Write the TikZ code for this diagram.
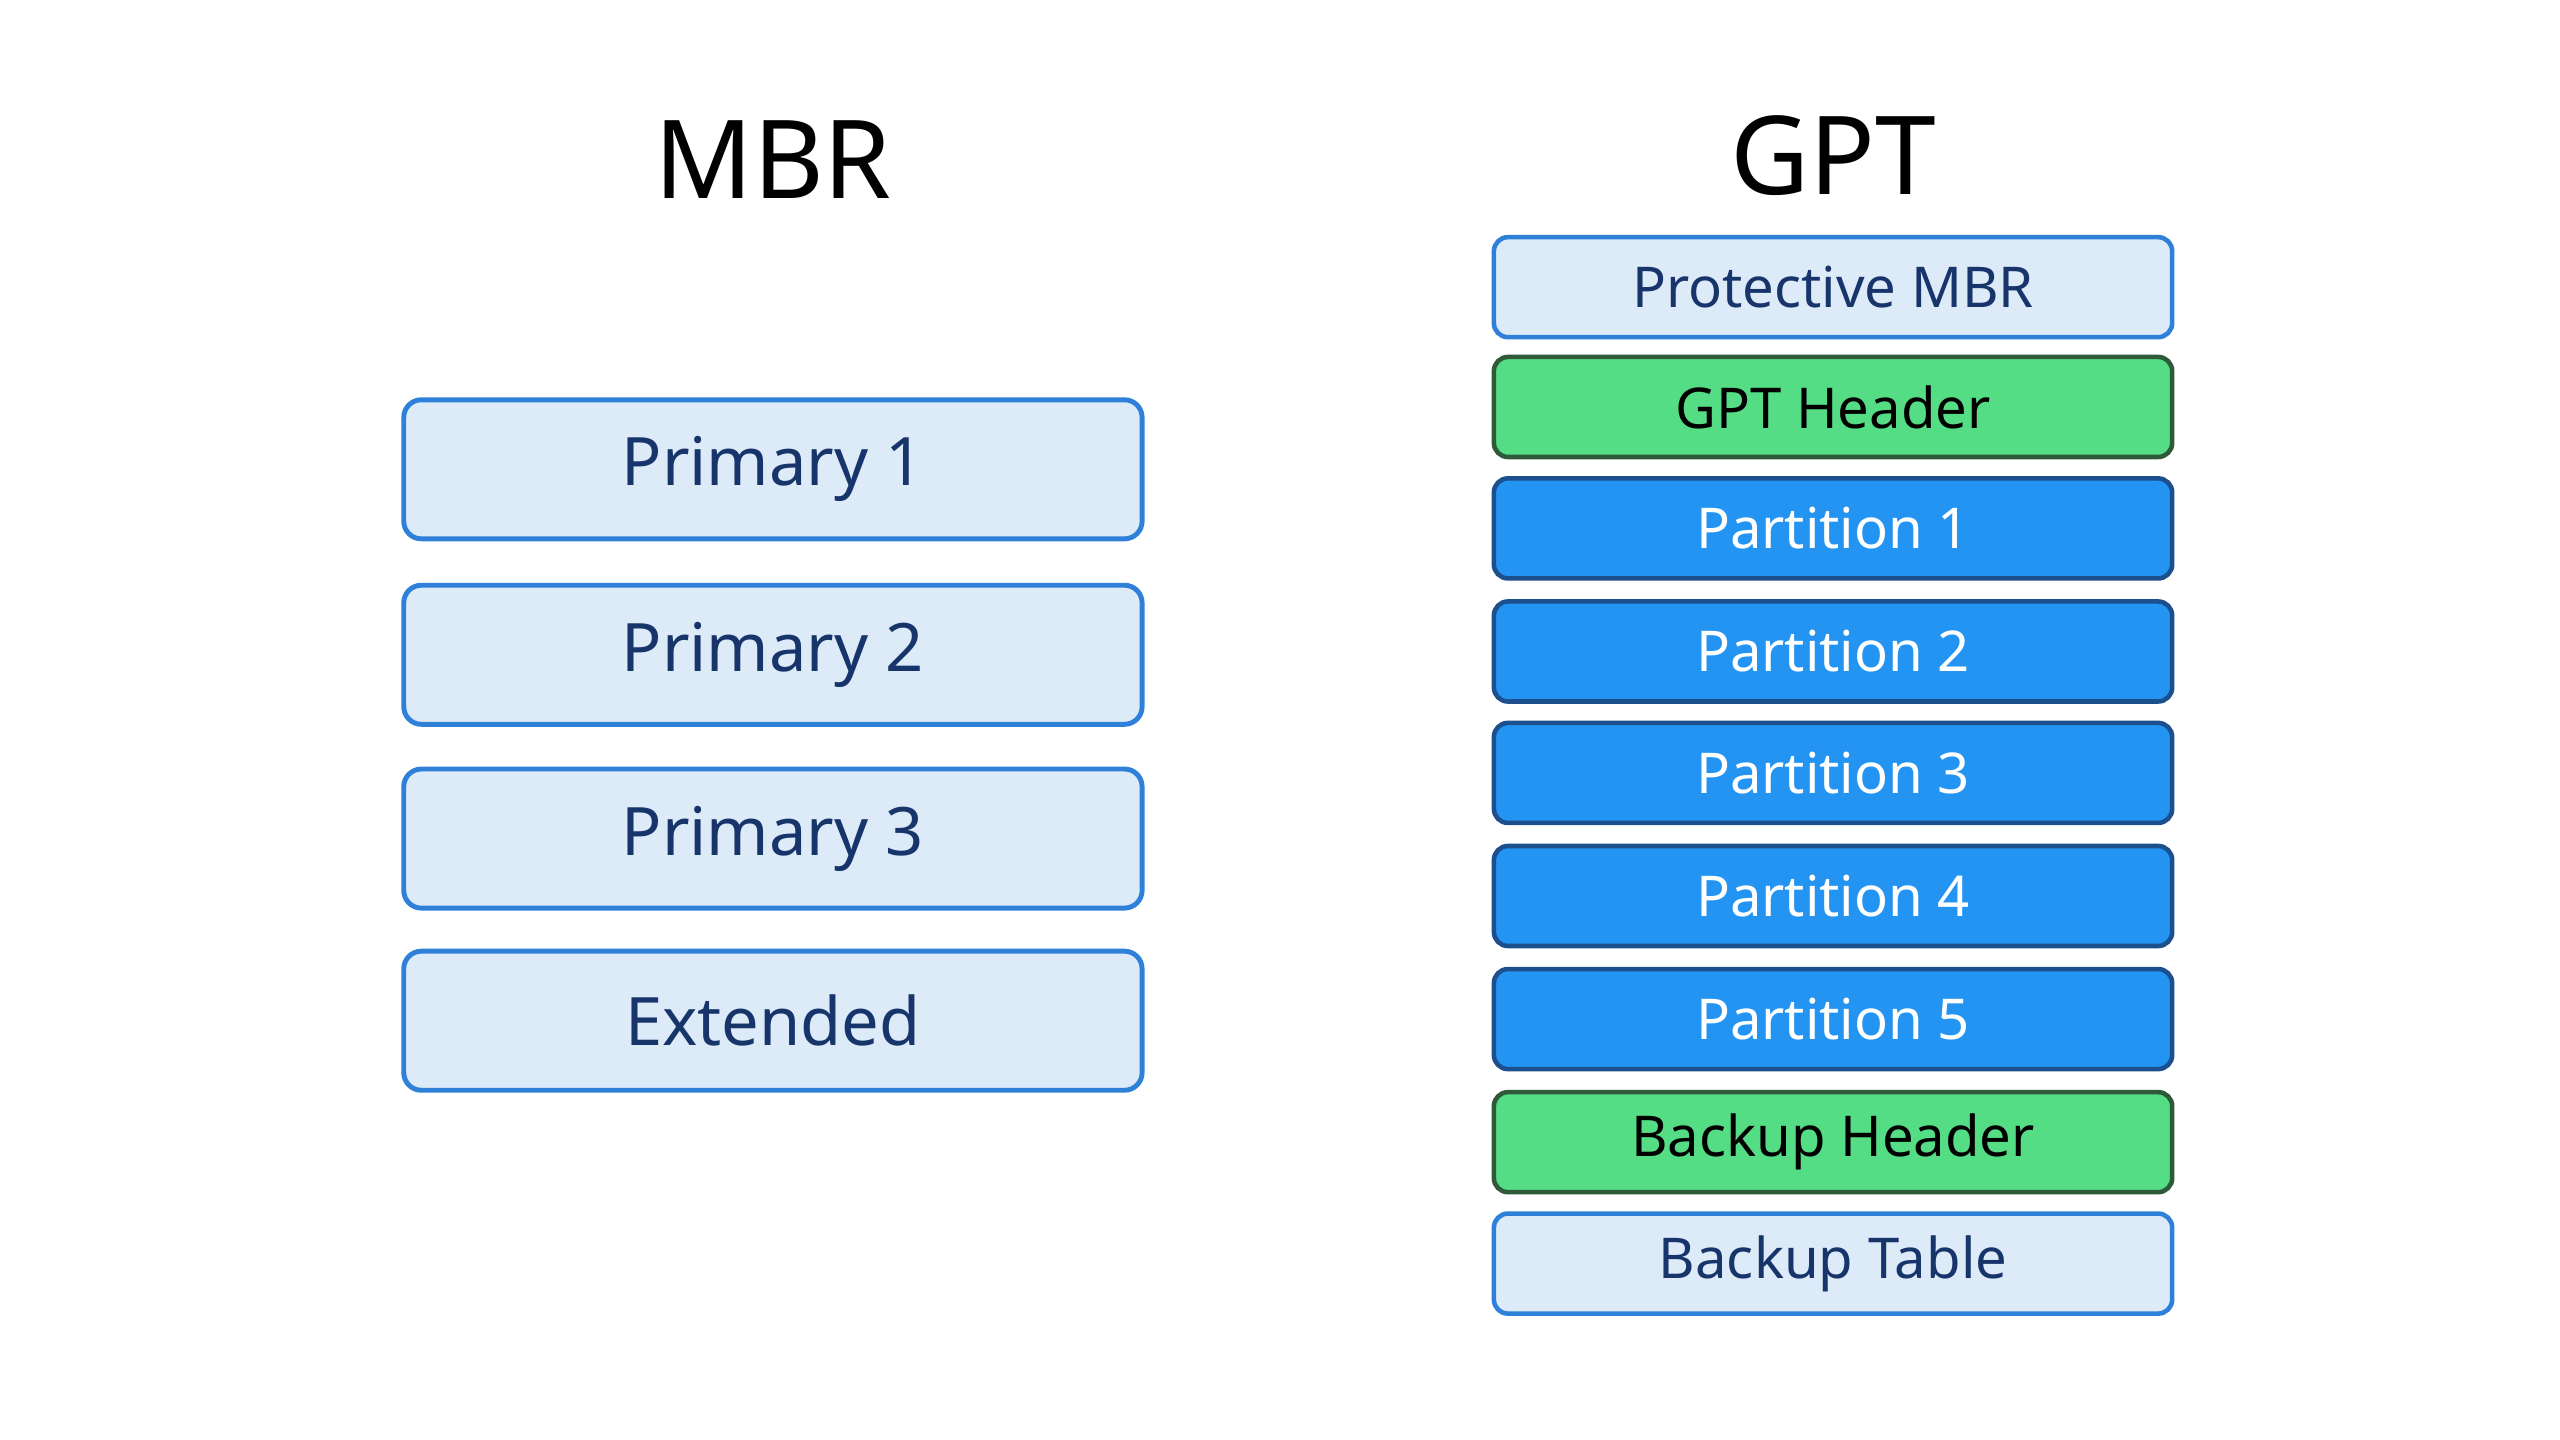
\documentclass[tikz,border=0pt]{standalone}
\usepackage{fontspec}
\setmainfont{Noto Sans}
\definecolor{lightfill}{HTML}{DDEBF8}
\definecolor{lightline}{HTML}{2F80D8}
\definecolor{darkfill}{HTML}{2494F2}
\definecolor{darkline}{HTML}{1B4F8E}
\definecolor{greenfill}{HTML}{55DD85}
\definecolor{greenline}{HTML}{2E5A3A}
\definecolor{textblue}{HTML}{17356B}
\begin{document}
\begin{tikzpicture}
  [x=0.01641cm,y=-0.01641cm,
   title/.style={font=\bfseries\fontsize{31}{36}\selectfont},
   mbrbox/.style={draw=lightline,fill=lightfill,line width=1.4pt,rounded corners=5pt,
     minimum width=7.38cm,minimum height=1.39cm,text=textblue,font=\bfseries\fontsize{19}{22}\selectfont},
   gptbox/.style={draw=lightline,fill=lightfill,line width=1.3pt,rounded corners=4pt,
     minimum width=6.78cm,minimum height=1.0cm,text=textblue,font=\bfseries\fontsize{16}{19}\selectfont},
   part/.style={gptbox,draw=darkline,fill=darkfill,text=white},
   head/.style={gptbox,draw=greenline,fill=greenfill,text=black}]
  \useasboundingbox (0,0) rectangle (1560,877.5);

  \node[title] (tmbr) at (471,97) {MBR};
  \node[title] (tgpt) at (1117,95) {GPT};

  \node[mbrbox] (m1) at (471,286) {Primary 1};
  \node[mbrbox] (m2) at (471,399) {Primary 2};
  \node[mbrbox] (m3) at (471,511) {Primary 3};
  \node[mbrbox] (m4) at (471,622) {Extended};

  \node[gptbox] (g1) at (1117,175) {Protective MBR};
  \node[head] (g2) at (1117,248) {GPT Header};
  \node[part] (g3) at (1117,322) {Partition 1};
  \node[part] (g4) at (1117,397) {Partition 2};
  \node[part] (g5) at (1117,471) {Partition 3};
  \node[part] (g6) at (1117,546) {Partition 4};
  \node[part] (g7) at (1117,621) {Partition 5};
  \node[head] (g8) at (1117,696) {Backup Header};
  \node[gptbox] (g9) at (1117,770) {Backup Table};
\end{tikzpicture}
\end{document}
